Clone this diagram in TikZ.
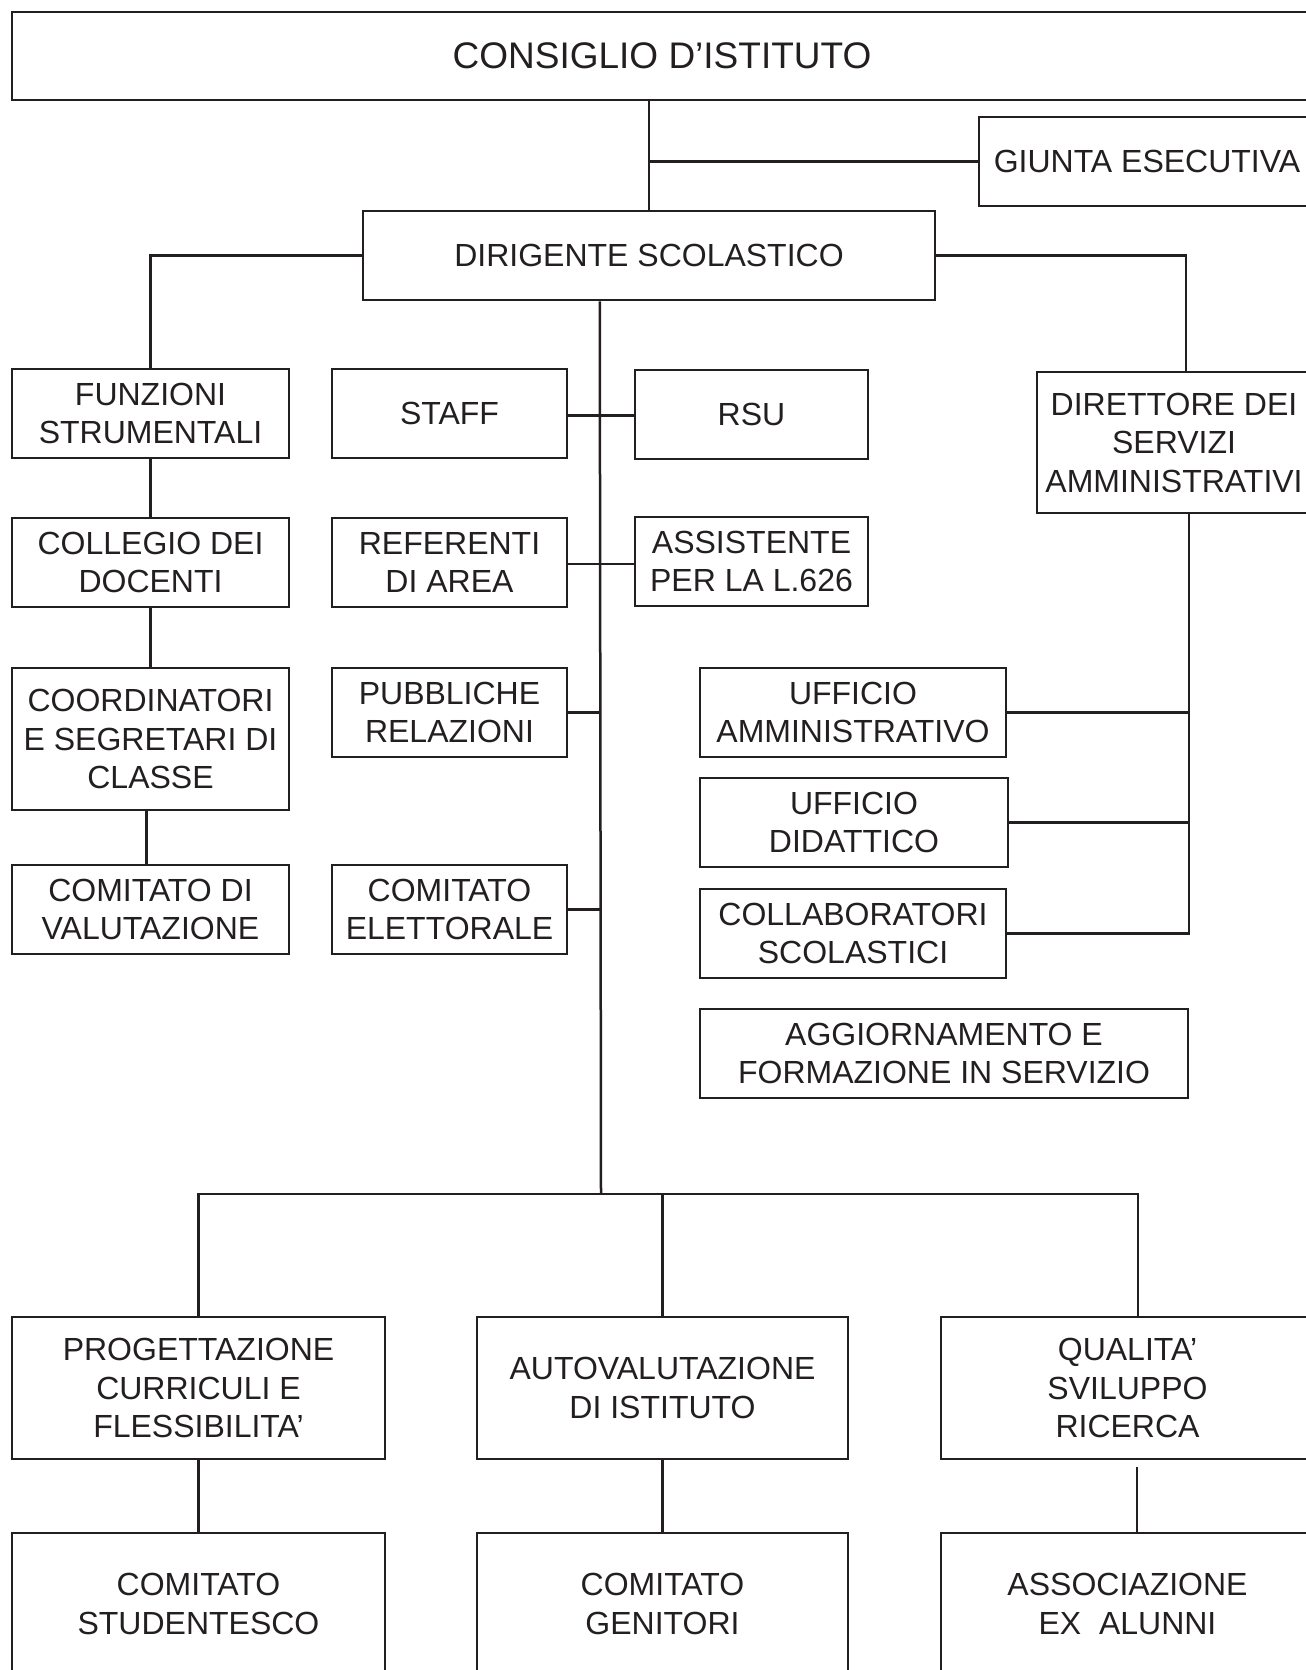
\documentclass[tikz,border=0pt]{standalone}
\usepackage{fontspec}
\setmainfont{Liberation Sans}
\usetikzlibrary{calc}
\definecolor{ink}{RGB}{35,31,32}
\begin{document}
\begin{tikzpicture}[x=1pt,y=-1pt,
  box/.style={draw=ink, line width=2.5pt, inner sep=0pt, align=center, text=ink,
    font=\fontsize{32}{38.5}\selectfont},
  conn/.style={draw=ink, line width=2.5pt}]
\useasboundingbox (0,0) rectangle (1306,1670);
\clip (0,0) rectangle (1306,1670);
\fill[white] (0,0) rectangle (1306,1670);

% nodes
\node[box, minimum width=1300pt, minimum height=88pt, font=\fontsize{37}{44}\selectfont] (consiglio) at (662,56) {CONSIGLIO D’ISTITUTO};
\node[box, minimum width=336pt, minimum height=89pt] (giunta) at (1147,161.5) {GIUNTA ESECUTIVA};
\node[box, minimum width=572pt, minimum height=89pt] (dirigente) at (649,255.5) {DIRIGENTE SCOLASTICO};

\node[box, minimum width=277pt, minimum height=89pt] (funzioni) at (150.5,413.5) {FUNZIONI\\STRUMENTALI};
\node[box, minimum width=235pt, minimum height=89pt] (staff) at (449.5,413.5) {STAFF};
\node[box, minimum width=233pt, minimum height=89pt] (rsu) at (751.5,414.5) {RSU};
\node[box, minimum width=274pt, minimum height=141pt] (direttore) at (1174,442.5) {DIRETTORE DEI\\SERVIZI\\AMMINISTRATIVI};

\node[box, minimum width=277pt, minimum height=89pt] (collegio) at (150.5,562.5) {COLLEGIO DEI\\DOCENTI};
\node[box, minimum width=235pt, minimum height=89pt] (referenti) at (449.5,562.5) {REFERENTI\\DI AREA};
\node[box, minimum width=233pt, minimum height=89pt] (assistente) at (751.5,561.5) {ASSISTENTE\\PER LA L.626};

\node[box, minimum width=277pt, minimum height=142pt] (coord) at (150.5,739) {COORDINATORI\\E SEGRETARI DI\\CLASSE};
\node[box, minimum width=235pt, minimum height=89pt] (pubbliche) at (449.5,712.5) {PUBBLICHE\\RELAZIONI};
\node[box, minimum width=306pt, minimum height=89pt] (uffamm) at (853,712.5) {UFFICIO\\AMMINISTRATIVO};
\node[box, minimum width=308pt, minimum height=89pt] (uffdid) at (854,822.5) {UFFICIO\\DIDATTICO};

\node[box, minimum width=277pt, minimum height=89pt] (comval) at (150.5,909.5) {COMITATO DI\\VALUTAZIONE};
\node[box, minimum width=235pt, minimum height=89pt] (comel) at (449.5,909.5) {COMITATO\\ELETTORALE};
\node[box, minimum width=306pt, minimum height=89pt] (collab) at (853,933.5) {COLLABORATORI\\SCOLASTICI};
\node[box, minimum width=488pt, minimum height=89pt] (aggiorn) at (944,1053.5) {AGGIORNAMENTO E\\FORMAZIONE IN SERVIZIO};

\node[box, minimum width=373pt, minimum height=142pt] (prog) at (198.5,1388) {PROGETTAZIONE\\CURRICULI E\\FLESSIBILITA’};
\node[box, minimum width=371pt, minimum height=142pt] (autoval) at (662.5,1388) {AUTOVALUTAZIONE\\DI ISTITUTO};
\node[box, minimum width=373pt, minimum height=142pt] (qual) at (1127.5,1388) {QUALITA’\\SVILUPPO\\RICERCA};

\node[box, minimum width=373pt, minimum height=142pt] (stud) at (198.5,1604) {COMITATO\\STUDENTESCO};
\node[box, minimum width=371pt, minimum height=142pt] (genit) at (662.5,1604) {COMITATO\\GENITORI};
\node[box, minimum width=373pt, minimum height=142pt] (assoc) at (1127.5,1604) {ASSOCIAZIONE\\EX\ \ ALUNNI};

% helper coordinates
\coordinate (dtop) at ([xshift=150pt]direttore.north west);
\coordinate (dspine) at ([xshift=153pt]direttore.south west);
\coordinate (spinetop) at ([xshift=238pt]dirigente.south west);
\coordinate (hbar) at (601,1194);
\coordinate (qtop) at ([xshift=198pt]qual.north west);
\coordinate (qbot) at ([xshift=197pt,yshift=-7pt]qual.south west);

% connectors
\draw[conn] (dirigente.north |- consiglio.south) -- (dirigente.north);
\draw[conn] (giunta.west) -- (giunta.west -| dirigente.north);
\draw[conn] (dirigente.west) -| (funzioni.north);
\draw[conn] (dirigente.east) -| (dtop);
\draw[conn] (spinetop) -- (hbar);
\draw[conn] ([yshift=-2pt]staff.east) -- ([yshift=-2pt]staff.east -| rsu.west);
\draw[conn] ([yshift=-1.5pt]referenti.east) -- ([yshift=-1.5pt]referenti.east -| assistente.west);
\draw[conn] (pubbliche.east) -- (pubbliche.east -| spinetop);
\draw[conn] (comel.east) -- (comel.east -| spinetop);
\draw[conn] (funzioni.south) -- (collegio.north);
\draw[conn] (collegio.south) -- (coord.north);
\draw[conn] ([xshift=-4pt]coord.south) -- ([xshift=-4pt]comval.north);
\draw[conn] (dspine) |- (collab.east);
\draw[conn] (uffamm.east) -- (uffamm.east -| dspine);
\draw[conn] (uffdid.east) -- (uffdid.east -| dspine);
\draw[conn] (prog.north) |- (qtop |- hbar) -- (qtop);
\draw[conn] (autoval.north) -- (autoval.north |- hbar);
\draw[conn] (prog.south) -- (stud.north);
\draw[conn] (autoval.south) -- (genit.north);
\draw[conn] (qbot) -- (qbot |- assoc.north);
\end{tikzpicture}
\end{document}
